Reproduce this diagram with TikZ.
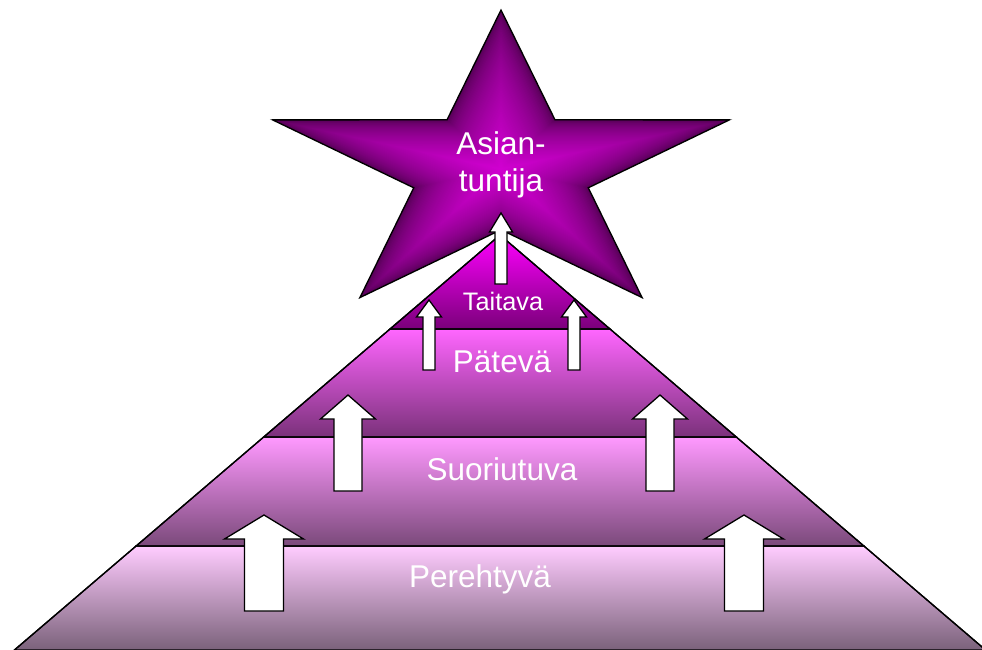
\documentclass[tikz,border=0pt]{standalone}
\usepackage{fontspec}
\setmainfont{Liberation Sans}
\definecolor{bandA}{HTML}{FFCCFF}
\definecolor{bandB}{HTML}{FF99FF}
\definecolor{bandC}{HTML}{FF66FF}
\definecolor{bandD}{HTML}{FF00FF}
\definecolor{starC}{HTML}{D000D0}
\definecolor{starE}{HTML}{4E004E}
\tikzset{
  outline/.style={draw=black, line width=1.3pt, line join=miter},
  band/.style={outline, top color=#1, middle color=#1!75!black, bottom color=#1!48!black},
  arr/.style={fill=white, draw=black, line width=1.3pt, line join=miter},
  lab/.style={text=white, inner sep=0pt, font=\fontsize{31.5}{37}\selectfont}
}
\newcommand\starpath{(0,-159) -- (54.0,-49.2) -- (228.4,-49.1) -- (87.3,18.8) -- (141.1,128.6) -- (0,60.8) -- (-141.1,128.6) -- (-87.3,18.8) -- (-228.4,-49.1) -- (-54.0,-49.2) -- cycle}
\newcommand\blockarr[6]{%
  \filldraw[arr] (#1,#2) -- (#1+#6,#3) -- (#1+#5,#3) -- (#1+#5,#4) -- (#1-#5,#4) -- (#1-#5,#3) -- (#1-#6,#3) -- cycle;}
\begin{document}
\begin{tikzpicture}[x=1pt,y=-1pt]
\clip (0,0) rectangle (982,650);
\useasboundingbox (0,0) rectangle (982,650);
% pyramid bands
\shade[band=bandA] (14.4,650) -- (136.1,546) -- (863.9,546) -- (985.6,650) -- cycle;
\shade[band=bandB] (136.1,546) -- (263.7,437) -- (736.3,437) -- (863.9,546) -- cycle;
\shade[band=bandC] (263.7,437) -- (390,329) -- (610,329) -- (736.3,437) -- cycle;
\shade[band=bandD] (390,329) -- (500,235) -- (610,329) -- cycle;
\draw[outline] (14.4,650) -- (136.1,546) -- (863.9,546) -- (985.6,650);
\draw[outline] (136.1,546) -- (263.7,437) -- (736.3,437) -- (863.9,546);
\draw[outline] (263.7,437) -- (390,329) -- (610,329) -- (736.3,437);
\draw[outline] (390,329) -- (500,235) -- (610,329);
% star with path gradient
\foreach \i in {0,...,59}{
  \pgfmathsetmacro\s{1-\i/60}
  \pgfmathsetmacro\p{100*(\i/59)^0.55}
  \fill[starC!\p!starE, shift={(501,169)}, scale=\s] \starpath;
}
\draw[outline, shift={(501,169)}] \starpath;
% arrows
\blockarr{264}{515}{539}{611}{19.5}{39.5}
\blockarr{744}{515}{539}{611}{19.5}{39.5}
\blockarr{348}{395}{419}{491}{14}{27.5}
\blockarr{660}{395}{419}{491}{14}{27.5}
\blockarr{429}{300}{317}{370}{6}{12.5}
\blockarr{574}{300}{317}{370}{6}{12.5}
\blockarr{501}{213}{232}{284}{6}{11.5}
% labels
\node[lab, anchor=base] (perehtyva) at (480,587) {Perehtyvä};
\node[lab, anchor=base] (suoriutuva) at (502,480) {Suoriutuva};
\node[lab, anchor=base] (pateva) at (502,372) {Pätevä};
\node[lab, anchor=base, font=\fontsize{25.3}{30}\selectfont] (taitava) at (503,310) {Taitava};
\node[lab, anchor=north, align=center] (asiantuntija) at (501,131) {Asian-\\tuntija};
\end{tikzpicture}
\end{document}
